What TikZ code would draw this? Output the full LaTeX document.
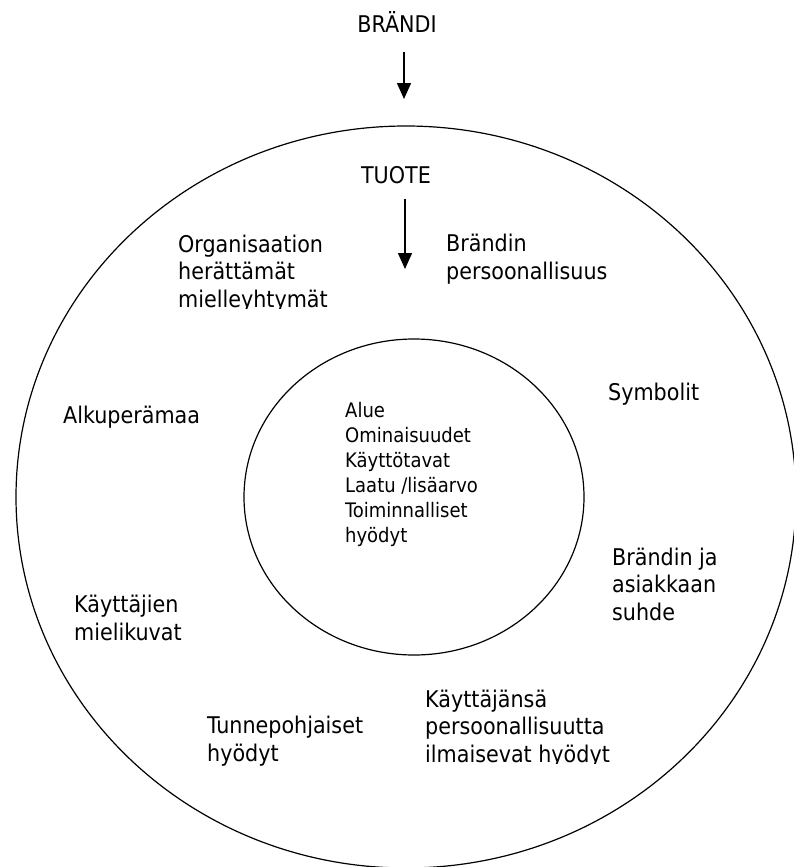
\documentclass[tikz,border=0pt]{standalone}
\usepackage{fontspec}
\setmainfont{DejaVu Sans Condensed}
\usetikzlibrary{arrows.meta,positioning}

\begin{document}
\begin{tikzpicture}[
    x=1pt, y=-1pt,
    lbl/.style={anchor=base west, align=left, inner sep=0pt,
                font=\fontsize{23}{27.5}\selectfont},
    core/.style={lbl, font=\fontsize{20}{25}\selectfont},
    ring/.style={draw, line width=1.2pt},
    arr/.style={-{Triangle[length=16pt,width=14pt]}, line width=1.5pt}
]
\useasboundingbox (0,0) rectangle (794,867);

% outer and inner ring
\begin{scope}
\clip (0,0) rectangle (794,867);
\draw[ring] (406,497) ellipse [x radius=390pt, y radius=371pt];
\end{scope}
\draw[ring] (414,497) ellipse [x radius=170pt, y radius=158pt];

\node[lbl, anchor=base] (brandi) at (397,33) {BRÄNDI};
\node[lbl, anchor=base] (tuote) at (396,183) {TUOTE};

\coordinate (brandiend) at (404,99);
\coordinate (tuoteend) at (405,269);
\draw[arr, shorten <=19pt] (brandi.south -| brandiend) -- (brandiend);
\draw[arr, shorten <=15pt] (tuote.south -| tuoteend) -- (tuoteend);

% multi-line labels sit on the baseline of their last line
\begin{scope}
\clip (0,0) rectangle (794,308);
\node[lbl] (organisaatio) at (178,307)
    {Organisaation\\herättämät\\mielleyhtymät};
\end{scope}
\node[lbl] (persoona) at (446,279) {Brändin\\persoonallisuus};
\node[lbl] (symbolit) at (608,400) {Symbolit};
\node[lbl] (alkupera) at (63,423) {Alkuperämaa};
\node[lbl] (suhde) at (612,620) {Brändin ja\\asiakkaan\\suhde};
\node[lbl] (mielikuvat) at (74,640) {Käyttäjien\\mielikuvat};
\node[lbl] (tunne) at (207,761) {Tunnepohjaiset\\hyödyt};
\begin{scope}
\clip (0,0) rectangle (794,763);
\node[lbl] (ilmaisu) at (425,762)
    {Käyttäjänsä\\persoonallisuutta\\ilmaisevat hyödyt};
\end{scope}

\node[core] (ydin) at (345,542)
    {Alue\\Ominaisuudet\\Käyttötavat\\Laatu /lisäarvo\\Toiminnalliset\\hyödyt};

\end{tikzpicture}
\end{document}
